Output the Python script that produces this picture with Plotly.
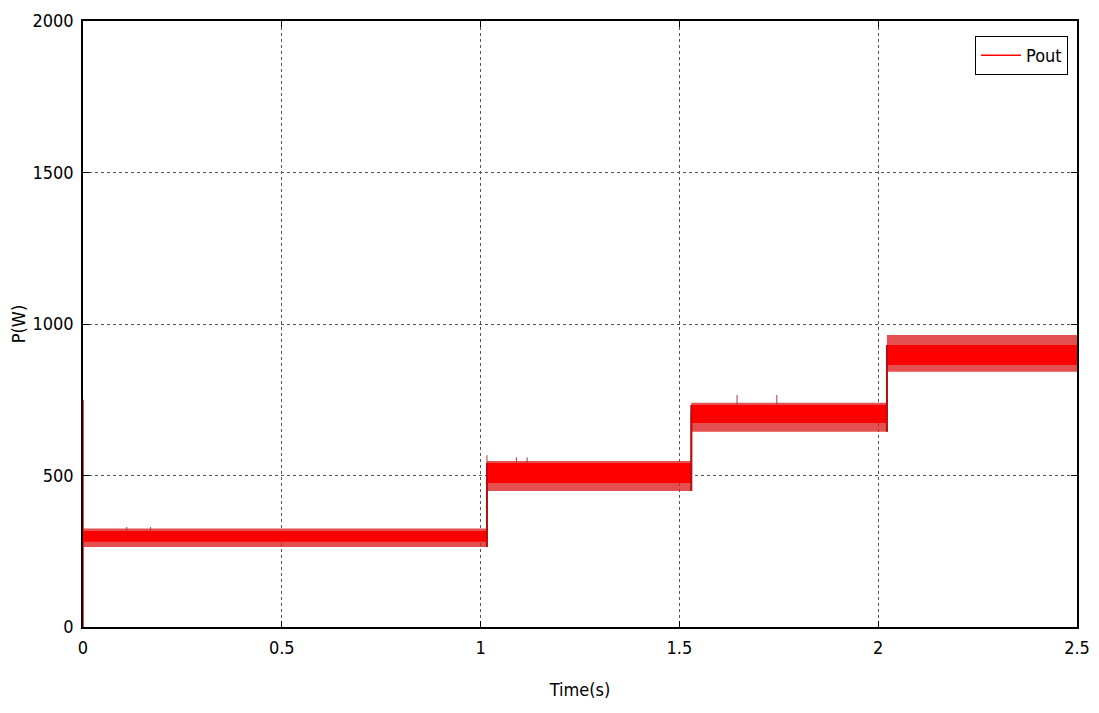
import plotly.graph_objects as go

# ---- data ----
seg_start = [0.0, 1.016, 1.530, 2.022]
seg_end = [1.016, 1.530, 2.022, 2.5]
core_hi = [317, 541, 733, 931]
core_lo = [281, 475, 673, 865]
ripple_hi = [325, 548, 740, 964]
ripple_lo = [264, 449, 644, 842]
level = [295, 505, 705, 900]

spike_t = [0.11, 0.17, 1.016, 1.09, 1.117, 1.645, 1.745]
spike_base = [317, 317, 541, 541, 541, 733, 733]
spike_top = [330, 330, 567, 560, 560, 766, 766]

start_t = [0.0, 0.0, 0.0]
start_p = [0, 750, 295]

x_ticks = [0, 0.5, 1, 1.5, 2, 2.5]
x_labels = ["0", "0.5", "1", "1.5", "2", "2.5"]
y_ticks = [0, 500, 1000, 1500, 2000]
y_labels = ["0", "500", "1000", "1500", "2000"]

RED = "#ff0000"
fig = go.Figure()

# outer ripple (hatched-looking) bands
for s, e, hi, lo in zip(seg_start, seg_end, ripple_hi, ripple_lo):
    fig.add_trace(go.Scatter(x=[s, e, e, s, s], y=[hi, hi, lo, lo, hi], mode="lines",
                             fill="toself", fillcolor="rgba(220,30,30,0.78)",
                             line=dict(width=0), showlegend=False, hoverinfo="skip"))
# dense core bands
for s, e, hi, lo in zip(seg_start, seg_end, core_hi, core_lo):
    fig.add_trace(go.Scatter(x=[s, e, e, s, s], y=[hi, hi, lo, lo, hi], mode="lines",
                             fill="toself", fillcolor=RED,
                             line=dict(width=0), showlegend=False, hoverinfo="skip"))

# spikes
sx, sy = [], []
for t, b, p in zip(spike_t, spike_base, spike_top):
    sx += [t, t, None]
    sy += [b, p, None]
fig.add_trace(go.Scatter(x=sx, y=sy, mode="lines", line=dict(color="#a04040", width=1),
                         showlegend=False, hoverinfo="skip"))

# step path (main signal centre line) with legend
px, py = list(start_t), list(start_p)
for i in range(len(seg_start)):
    px += [seg_start[i], seg_end[i]]
    py += [level[i], level[i]]
fig.add_trace(go.Scatter(x=px, y=py, mode="lines", line=dict(color=RED, width=1.5),
                         name="Pout"))
# step edges
ex, ey = [], []
for i in range(1, len(seg_start)):
    ex += [seg_start[i], seg_start[i], None]
    ey += [ripple_lo[i - 1], core_hi[i], None]
fig.add_trace(go.Scatter(x=ex, y=ey, mode="lines", line=dict(color="#b01010", width=2),
                         showlegend=False, hoverinfo="skip"))

font = dict(family="DejaVu Sans Condensed, Liberation Sans Narrow, Arial Narrow, Liberation Sans",
            size=18, color="black")
axis_common = dict(showline=True, linecolor="black", linewidth=1.5, mirror="ticks",
                   ticks="inside", ticklen=6, tickcolor="black", showgrid=True,
                   gridcolor="#555555", griddash="dot", gridwidth=1, zeroline=False,
                   tickfont=font, automargin=False)

# page body has an 8px margin, so the figure is sized/offset to compensate
fig.update_layout(
    width=1083, height=697,
    paper_bgcolor="white", plot_bgcolor="white",
    margin=dict(l=75, r=14, t=13, b=78),
    showlegend=True,
    legend=dict(x=0.991, y=0.975, xanchor="right", yanchor="top",
                bordercolor="black", borderwidth=1, bgcolor="white",
                font=font, itemwidth=40),
    xaxis=dict(range=[0, 2.5], tickvals=x_ticks, ticktext=x_labels, ticklabelstandoff=4,
               title=dict(text="Time(s)", font=font, standoff=26), **axis_common),
    yaxis=dict(range=[0, 2000], tickvals=y_ticks, ticktext=y_labels, ticklabelstandoff=4,
               title=dict(text="P(W)", font=font, standoff=10), **axis_common),
)

fig.write_html("out.html")
